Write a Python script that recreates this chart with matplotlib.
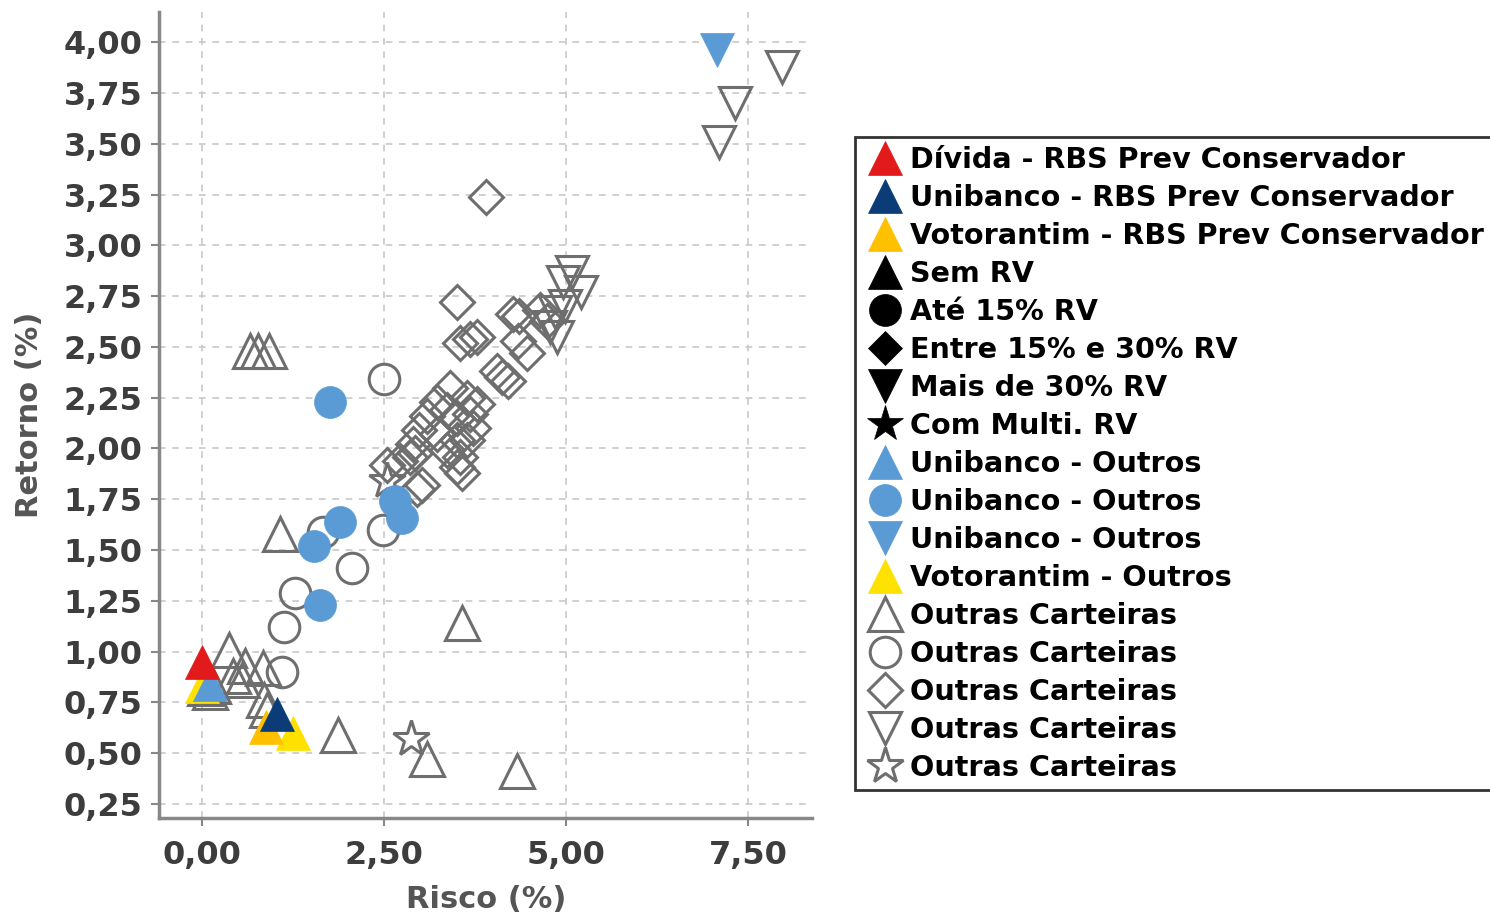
import matplotlib
matplotlib.use("Agg")
import matplotlib.pyplot as plt
from matplotlib.ticker import FuncFormatter

# ---- data (Risco %, Retorno %) ----
divida_rbs_x = [0.00]
divida_rbs_y = [0.95]
unibanco_rbs_x = [1.04]
unibanco_rbs_y = [0.69]
votorantim_rbs_x = [0.88]
votorantim_rbs_y = [0.63]

unibanco_tri_x = [0.11]
unibanco_tri_y = [0.84]
unibanco_circ_x = [1.76, 1.90, 1.54, 1.63, 2.66, 2.75]
unibanco_circ_y = [2.23, 1.64, 1.52, 1.23, 1.74, 1.66]
unibanco_vtri_x = [7.07]
unibanco_vtri_y = [3.96]
votorantim_outros_x = [0.00, 1.25]
votorantim_outros_y = [0.83, 0.60]

outras_tri_x = [0.66, 0.77, 0.93, 1.07, 3.57, 1.87, 3.09, 4.33, 0.38, 0.59,
                0.84, 0.43, 0.55, 0.85, 0.89, 0.05, 0.12, 0.15]
outras_tri_y = [2.48, 2.48, 2.48, 1.58, 1.14, 0.59, 0.47, 0.41, 1.01, 0.93,
                0.92, 0.88, 0.86, 0.76, 0.71, 0.82, 0.80, 0.83]
outras_circ_x = [2.50, 1.66, 2.49, 2.07, 1.28, 1.13, 1.10]
outras_circ_y = [2.34, 1.59, 1.60, 1.41, 1.29, 1.12, 0.90]
outras_diam_x = [3.91, 3.50, 3.54, 3.68, 3.78, 4.27, 4.36, 4.34, 4.46, 4.64,
                 4.74, 4.05, 4.13, 4.20, 3.41, 3.23, 3.64, 3.78, 3.09, 3.37,
                 3.50, 3.68, 3.72, 2.99, 3.23, 3.50, 3.64, 3.37, 2.90, 3.54,
                 3.50, 3.57, 2.72, 2.55, 2.86, 2.93, 3.02, 2.95]
outras_diam_y = [3.24, 2.72, 2.52, 2.54, 2.55, 2.66, 2.65, 2.53, 2.47, 2.68,
                 2.63, 2.38, 2.35, 2.33, 2.30, 2.23, 2.25, 2.22, 2.16, 2.19,
                 2.15, 2.17, 2.10, 2.09, 2.07, 2.04, 2.04, 1.99, 2.02, 1.96,
                 1.91, 1.88, 1.94, 1.92, 1.96, 1.98, 1.82, 1.80]
outras_vtri_x = [7.97, 7.32, 7.10, 5.08, 4.96, 5.21, 4.85, 4.99, 4.88, 4.78]
outras_vtri_y = [3.88, 3.70, 3.51, 2.87, 2.82, 2.77, 2.67, 2.70, 2.55, 2.60]
outras_star_x = [2.88, 2.55]
outras_star_y = [0.57, 1.84]

x_ticks = [0, 2.5, 5, 7.5]
y_ticks = [0.25, 0.5, 0.75, 1.0, 1.25, 1.5, 1.75, 2.0, 2.25, 2.5, 2.75,
           3.0, 3.25, 3.5, 3.75, 4.0]

RED = "#E31A1C"
NAVY = "#0B3C78"
GOLD = "#FFC000"
LBLUE = "#5B9BD5"
YELLOW = "#FFE100"
GRAY = "#6E6E6E"

plt.rcParams["font.family"] = "DejaVu Sans"
plt.rcParams["font.weight"] = "bold"

fig = plt.figure(figsize=(14.9, 9.13), dpi=100)
ax = fig.add_axes([0.107, 0.104, 0.438, 0.883])

open_kw = dict(linestyle="none", markerfacecolor="none", markeredgecolor=GRAY,
               markeredgewidth=2.2, label="Outras Carteiras")
h_otri, = ax.plot(outras_tri_x, outras_tri_y, marker="^", markersize=24, zorder=2, **open_kw)
h_ocirc, = ax.plot(outras_circ_x, outras_circ_y, marker="o", markersize=22, zorder=2, **open_kw)
h_odiam, = ax.plot(outras_diam_x, outras_diam_y, marker="D", markersize=17, zorder=2, **open_kw)
h_ovtri, = ax.plot(outras_vtri_x, outras_vtri_y, marker="v", markersize=23, zorder=2, **open_kw)
h_ostar, = ax.plot(outras_star_x, outras_star_y, marker="*", markersize=27, zorder=2, **open_kw)

def filled(x, y, m, c, ms, label, z):
    h, = ax.plot(x, y, linestyle="none", marker=m, markersize=ms, color=c,
                 markeredgecolor=c, markeredgewidth=0.5, label=label, zorder=z)
    return h

h_vout = filled(votorantim_outros_x, votorantim_outros_y, "^", YELLOW, 24, "Votorantim - Outros", 2.5)
h_utri = filled(unibanco_tri_x, unibanco_tri_y, "^", LBLUE, 24, "Unibanco - Outros", 3)
h_ucirc = filled(unibanco_circ_x, unibanco_circ_y, "o", LBLUE, 23, "Unibanco - Outros", 3)
h_uvtri = filled(unibanco_vtri_x, unibanco_vtri_y, "v", LBLUE, 24, "Unibanco - Outros", 3)
h_vrbs = filled(votorantim_rbs_x, votorantim_rbs_y, "^", GOLD, 24, "Votorantim - RBS Prev Conservador", 4)
h_urbs = filled(unibanco_rbs_x, unibanco_rbs_y, "^", NAVY, 24, "Unibanco - RBS Prev Conservador", 5)
h_drbs = filled(divida_rbs_x, divida_rbs_y, "^", RED, 24, "Dívida - RBS Prev Conservador", 5)

# legend-only category markers
h_sem = filled([], [], "^", "black", 24, "Sem RV", 1)
h_ate = filled([], [], "o", "black", 23, "Até 15% RV", 1)
h_entre = filled([], [], "D", "black", 17, "Entre 15% e 30% RV", 1)
h_mais = filled([], [], "v", "black", 24, "Mais de 30% RV", 1)
h_multi = filled([], [], "*", "black", 27, "Com Multi. RV", 1)

ax.set_xlim(-0.58, 8.38)
ax.set_ylim(0.18, 4.15)
ax.set_xticks(x_ticks)
ax.set_yticks(y_ticks)
fmt = FuncFormatter(lambda v, p: f"{v:.2f}".replace(".", ","))
ax.xaxis.set_major_formatter(fmt)
ax.yaxis.set_major_formatter(fmt)
ax.tick_params(labelsize=23, colors="#3d3d3d", length=6, width=1.5, pad=6)
ax.tick_params(axis="x", pad=10)
for t in ax.get_xticklabels() + ax.get_yticklabels():
    t.set_fontweight("bold")
ax.tick_params(axis="both", color="#888888")

for s in ["top", "right"]:
    ax.spines[s].set_visible(False)
for s in ["left", "bottom"]:
    ax.spines[s].set_color("#888888")
    ax.spines[s].set_linewidth(2.5)

ax.grid(True, linestyle=(0, (4, 4)), color="#c8c8c8", linewidth=1.2, zorder=0)
ax.set_axisbelow(True)

ax.set_xlabel("Risco (%)", fontsize=22, fontweight="bold", color="#555555", labelpad=10)
ax.set_ylabel("Retorno (%)", fontsize=22, fontweight="bold", color="#555555", labelpad=14)

handles = [h_drbs, h_urbs, h_vrbs, h_sem, h_ate, h_entre, h_mais, h_multi,
           h_utri, h_ucirc, h_uvtri, h_vout, h_otri, h_ocirc, h_odiam, h_ovtri, h_ostar]
leg = fig.legend(handles=handles, loc="upper left", bbox_to_anchor=(0.574, 0.85),
                 frameon=True, fancybox=False, borderaxespad=0,
                 handlelength=1.5, handletextpad=0.12, labelspacing=0.35,
                 borderpad=0.3, numpoints=1,
                 prop={"weight": "bold", "size": 20.6})
leg.get_frame().set_edgecolor("black")
leg.get_frame().set_linewidth(2)

fig.savefig("out.png", dpi=100)
